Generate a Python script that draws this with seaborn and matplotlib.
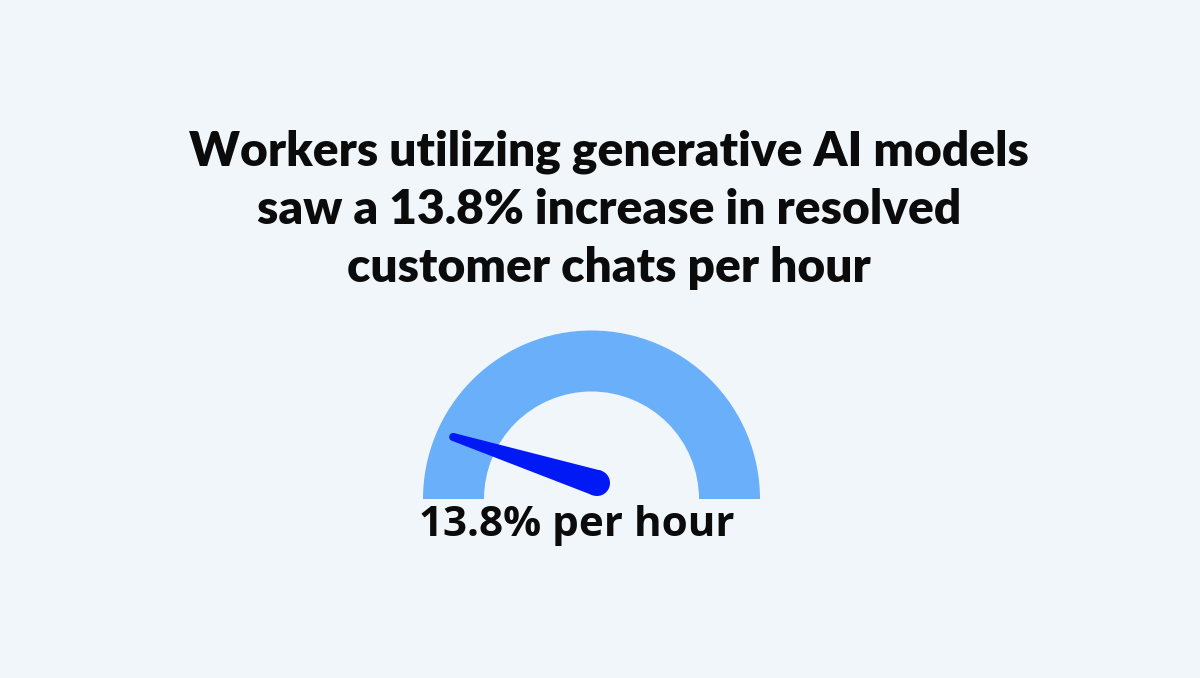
import numpy as np
import matplotlib
matplotlib.use("Agg")
import matplotlib.pyplot as plt
import seaborn as sns
from matplotlib.patches import Wedge, Circle, Polygon

# Gauge data
title_lines = ["Workers utilizing generative AI models",
               "saw a 13.8% increase in resolved",
               "customer chats per hour"]
gauge_value = 13.8
gauge_max = 140  # scale estimated from needle angle
gauge_label = "13.8% per hour"

bg = "#f1f6fb"
arc_color = "#6aaffa"
needle_color = "#0019f5"

sns.set_theme(style="white")
plt.rcParams["font.family"] = ["Lato", "DejaVu Sans"]

fig = plt.figure(figsize=(12, 6.78), dpi=100, facecolor=bg)
ax = fig.add_axes([0, 0, 1, 1])
ax.set_facecolor(bg)
ax.set_xlim(0, 1200)
ax.set_ylim(678, 0)
ax.set_aspect("equal")
ax.axis("off")

# title
for i, line in enumerate(title_lines):
    ax.text(609, 152 + i * 58, line, ha="center", va="center",
            fontsize=34.5, fontweight="heavy", color="#0b0b0b")

# gauge arc (y axis inverted, so angles flip)
cx, cy = 591.5, 499
r_out, r_in = 168.5, 107.5
arc = Wedge((cx, cy), r_out, 180, 360, width=r_out - r_in,
            facecolor=arc_color, edgecolor="none")
ax.add_patch(arc)

# needle
px, py = 597, 483
ang = np.pi * (1 - gauge_value / gauge_max)
length = 151
tx, ty = px + length * np.cos(ang), py - length * np.sin(ang)
w_base, w_tip = 13, 4
nx, ny = -np.sin(ang), -np.cos(ang)
pts = [(px + nx * w_base, py + ny * w_base),
       (tx + nx * w_tip, ty + ny * w_tip),
       (tx - nx * w_tip, ty - ny * w_tip),
       (px - nx * w_base, py - ny * w_base)]
ax.add_patch(Polygon(pts, closed=True, facecolor=needle_color, edgecolor="none"))
ax.add_patch(Circle((px, py), w_base, facecolor=needle_color, edgecolor="none"))
ax.add_patch(Circle((tx, ty), w_tip, facecolor=needle_color, edgecolor="none"))

ax.text(577, 526, gauge_label, ha="center", va="center", family=["Open Sans", "DejaVu Sans"],
        fontsize=30.4, fontweight="bold", color="#0b0b0b")

fig.savefig("out.png", dpi=100, facecolor=bg)
